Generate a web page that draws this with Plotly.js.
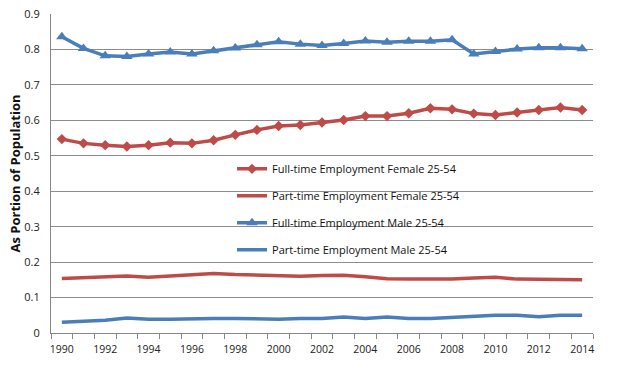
<!DOCTYPE html>
<html>
<head>
<meta charset="utf-8">
<script src="https://cdn.plot.ly/plotly-3.0.1.min.js"></script>
<style>html,body{margin:0;padding:0;background:#fff;}#chart{width:620px;height:380px;}</style>
</head>
<body>
<div id="chart"></div>
<script>
var years = [1990,1991,1992,1993,1994,1995,1996,1997,1998,1999,2000,2001,2002,2003,2004,2005,2006,2007,2008,2009,2010,2011,2012,2013,2014];
var fullFemale = [0.547,0.535,0.530,0.526,0.530,0.537,0.535,0.544,0.559,0.573,0.584,0.587,0.594,0.601,0.612,0.612,0.620,0.634,0.631,0.619,0.615,0.622,0.629,0.636,0.629];
var partFemale = [0.154,0.157,0.158,0.161,0.157,0.160,0.163,0.168,0.165,0.163,0.160,0.160,0.162,0.163,0.159,0.153,0.152,0.152,0.152,0.155,0.157,0.152,0.152,0.152,0.150];
var fullMale = [0.836,0.803,0.782,0.780,0.787,0.793,0.787,0.796,0.804,0.813,0.822,0.815,0.811,0.817,0.824,0.820,0.823,0.823,0.827,0.787,0.794,0.801,0.805,0.805,0.802];
var partMale = [0.030,0.033,0.036,0.042,0.039,0.039,0.041,0.041,0.041,0.039,0.039,0.041,0.041,0.045,0.041,0.045,0.041,0.041,0.044,0.047,0.050,0.050,0.046,0.050,0.050];
var names = ["Full-time Employment Female 25-54","Part-time Employment Female 25-54","Full-time Employment Male 25-54","Part-time Employment Male 25-54"];
var xTickVals = [1990,1992,1994,1996,1998,2000,2002,2004,2006,2008,2010,2012,2014];
var yTickVals = [0,0.1,0.2,0.3,0.4,0.5,0.6,0.7,0.8,0.9];
var yTickText = ["0","0.1","0.2","0.3","0.4","0.5","0.6","0.7","0.8","0.9"];

var red = "#BE4B48", blue = "#4A7EBB";
var traces = [
  {x: years, y: fullFemale, name: names[0], legendgroup:"a", mode:"lines+markers", line:{color:red,width:3.5}, marker:{symbol:"diamond",size:8,color:red}},
  {x: years, y: partFemale, name: names[1], legendgroup:"b", mode:"lines", line:{color:red,width:3.5}},
  {x: years, y: fullMale, name: names[2], legendgroup:"c", mode:"lines+markers", line:{color:blue,width:3.5}, marker:{symbol:"triangle-up",size:10,color:blue}},
  {x: years, y: partMale, name: names[3], legendgroup:"d", mode:"lines", line:{color:blue,width:3.5}}
];
var layout = {
  width:620, height:380,
  margin:{l:51, r:27, t:14, b:47},
  paper_bgcolor:"#fff", plot_bgcolor:"#fff",
  font:{family:"Open Sans, sans-serif", size:11, color:"#222"},
  showlegend:true,
  legend:{x:0.334, y:0.56, xanchor:"left", yanchor:"top", bgcolor:"rgba(0,0,0,0)", tracegroupgap:8, font:{size:11, color:"#111"}},
  xaxis:{range:[1989.5,2014.5], tickvals:xTickVals, ticktext:xTickVals.map(String), ticks:"", showgrid:false, zeroline:false,
    showline:true, linecolor:"#888", linewidth:1, tickfont:{size:10.5,color:"#222"}, ticklabelstandoff:6,
    minor:{tick0:1989.5, dtick:1, ticks:"outside", ticklen:5, tickcolor:"#888", showgrid:false}},
  yaxis:{range:[0,0.9], tickvals:yTickVals, ticktext:yTickText, showgrid:true, gridcolor:"#8c8c8c", gridwidth:1, zeroline:false,
    showline:true, linecolor:"#888", ticks:"", tickfont:{size:11,color:"#222"}, ticklabelstandoff:8,
    title:{text:"<b>As Portion of Population</b>", font:{size:13,color:"#111"}, standoff:0}}
};
Plotly.newPlot("chart", traces, layout, {displayModeBar:false, staticPlot:true});
</script>
</body>
</html>
